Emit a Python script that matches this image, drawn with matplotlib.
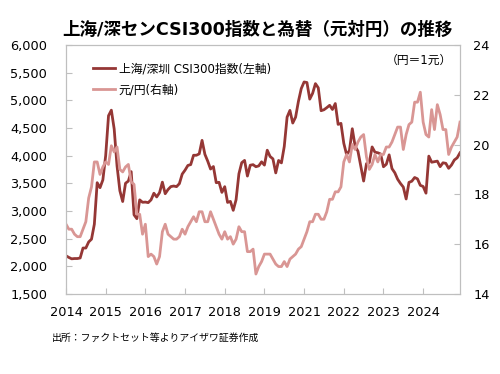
import matplotlib
matplotlib.use("Agg")
import matplotlib.pyplot as plt

plt.rcParams["font.family"] = ["DejaVu Sans", "Noto Sans CJK JP"]

# month-end values, Jan 2014 .. Aug 2025
csi300 = [
    2190, 2160, 2135, 2140, 2140, 2150, 2330, 2330, 2440, 2490, 2760, 3510,  # 2014
    3420, 3560, 4000, 4720, 4820, 4480, 3816, 3366, 3170, 3500, 3540, 3710,  # 2015
    2930, 2860, 3200, 3156, 3160, 3150, 3200, 3320, 3253, 3330, 3520, 3311,  # 2016
    3387, 3440, 3450, 3439, 3493, 3666, 3737, 3822, 3837, 4006, 4006, 4031,  # 2017
    4275, 4023, 3899, 3757, 3802, 3510, 3517, 3335, 3438, 3154, 3173, 3011,  # 2018
    3202, 3670, 3872, 3913, 3630, 3826, 3836, 3799, 3814, 3887, 3828, 4097,  # 2019
    3984, 3941, 3687, 3912, 3868, 4164, 4695, 4816, 4588, 4695, 4981, 5211,  # 2020
    5330, 5320, 5020, 5124, 5300, 5224, 4811, 4828, 4866, 4908, 4833, 4940,  # 2021
    4564, 4582, 4223, 4016, 4091, 4485, 4170, 4079, 3805, 3540, 3854, 3872,  # 2022
    4156, 4061, 4051, 4029, 3798, 3843, 4013, 3765, 3690, 3573, 3496, 3431,  # 2023
    3216, 3516, 3537, 3604, 3580, 3462, 3442, 3321, 3990, 3880, 3890, 3900,  # 2024
    3800, 3870, 3860, 3770, 3830, 3920, 3960, 4050,                          # 2025
]
cny_jpy = [
    16.8, 16.6, 16.6, 16.4, 16.3, 16.3, 16.6, 16.9, 17.85, 18.3, 19.3, 19.3,  # 2014
    18.8, 19.1, 19.3, 19.2, 19.95, 19.7, 19.9, 19.0, 18.9, 19.1, 19.2, 18.5,  # 2015
    18.4, 17.2, 17.2, 16.4, 16.8, 15.5, 15.6, 15.5, 15.2, 15.5, 16.5, 16.8,   # 2016
    16.4, 16.3, 16.2, 16.2, 16.3, 16.6, 16.4, 16.7, 16.9, 17.1, 16.9, 17.3,   # 2017
    17.3, 16.9, 16.9, 17.3, 17.0, 16.7, 16.4, 16.2, 16.5, 16.2, 16.3, 16.0,   # 2018
    16.2, 16.7, 16.5, 16.5, 15.7, 15.7, 15.8, 14.8, 15.1, 15.3, 15.6, 15.6,   # 2019
    15.6, 15.4, 15.2, 15.1, 15.1, 15.3, 15.1, 15.4, 15.5, 15.6, 15.8, 15.9,   # 2020
    16.2, 16.5, 16.9, 16.9, 17.2, 17.2, 17.0, 17.0, 17.3, 17.8, 17.8, 18.1,   # 2021
    18.1, 18.3, 19.3, 19.6, 19.3, 20.0, 19.8, 20.1, 20.3, 20.4, 19.5, 19.0,   # 2022
    19.2, 19.6, 19.3, 19.6, 19.6, 19.9, 19.9, 20.1, 20.4, 20.7, 20.7, 19.8,   # 2023
    20.4, 20.8, 20.9, 21.7, 21.7, 22.1, 20.9, 20.4, 20.3, 21.4, 20.6, 21.6,   # 2024
    21.2, 20.6, 20.6, 19.6, 19.9, 20.1, 20.3, 20.9,                           # 2025
]
tick_months = [0, 14, 28, 42, 56, 70, 84, 98, 112, 126]
tick_labels = ["2014", "2015", "2016", "2017", "2018", "2019",
               "2021", "2022", "2023", "2024"]

dark = "#953735"
light = "#D99694"
grey = "#bfbfbf"

x = list(range(len(csi300)))

fig = plt.figure(figsize=(5, 3.74), dpi=100)
ax = fig.add_axes([0.132, 0.214, 0.788, 0.666])
ax2 = ax.twinx()

l1, = ax.plot(x, csi300, color=dark, lw=2.0, label="上海/深圳 CSI300指数(左軸)")
l2, = ax2.plot(x, cny_jpy, color=light, lw=2.0, label="元/円(右軸)")

ax.set_xlim(0, len(x) - 1)
ax.set_ylim(1500, 6000)
ax2.set_ylim(14, 24)
ax.set_yticks(range(1500, 6001, 500))
ax.set_yticklabels([f"{v:,}" for v in range(1500, 6001, 500)])
ax2.set_yticks(range(14, 25, 2))
ax.set_xticks(tick_months)
ax.set_xticklabels(tick_labels)

for a in (ax, ax2):
    for s in a.spines.values():
        s.set_color(grey)
ax.tick_params(axis="y", direction="in", length=4, color=grey, pad=13.5, labelsize=9.3)
ax.tick_params(axis="x", direction="in", length=4, color=grey, pad=9, labelsize=9.3)
ax2.tick_params(axis="y", direction="in", length=4, color=grey, pad=9.5, labelsize=9.3)

ax2.legend(handles=[l1, l2], loc="upper left", bbox_to_anchor=(0.068, 0.93),
           frameon=False, fontsize=8.5, handlelength=1.9, handletextpad=0.3,
           labelspacing=0.7, borderpad=0, borderaxespad=0)
ax2.text(0.98, 0.936, "（円＝1元）", transform=ax2.transAxes, ha="right", va="center",
         fontsize=8.5)

fig.text(0.514, 0.92, "上海/深センCSI300指数と為替（元対円）の推移", ha="center", va="center",
         fontsize=12.6, fontweight="bold")
fig.text(0.104, 0.096, "出所：ファクトセット等よりアイザワ証券作成", ha="left", va="center",
         fontsize=7.1)

fig.savefig("out.png", dpi=100)
